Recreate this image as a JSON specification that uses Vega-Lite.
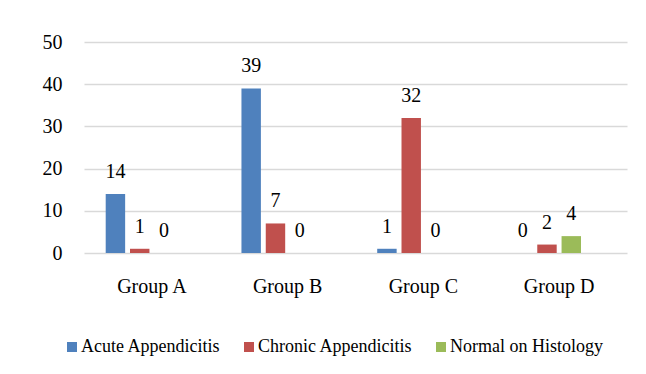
{
  "$schema": "https://vega.github.io/schema/vega-lite/v6.json",
  "autosize": "none",
  "width": 543,
  "height": 211,
  "padding": {"left": 84, "top": 42, "right": 19, "bottom": 121},
  "background": "white",
  "data": {
    "values": [
      {"group": "Group A", "series": "Acute Appendicitis", "value": 14},
      {"group": "Group A", "series": "Chronic Appendicitis", "value": 1},
      {"group": "Group A", "series": "Normal on Histology", "value": 0},
      {"group": "Group B", "series": "Acute Appendicitis", "value": 39},
      {"group": "Group B", "series": "Chronic Appendicitis", "value": 7},
      {"group": "Group B", "series": "Normal on Histology", "value": 0},
      {"group": "Group C", "series": "Acute Appendicitis", "value": 1},
      {"group": "Group C", "series": "Chronic Appendicitis", "value": 32},
      {"group": "Group C", "series": "Normal on Histology", "value": 0},
      {"group": "Group D", "series": "Acute Appendicitis", "value": 0},
      {"group": "Group D", "series": "Chronic Appendicitis", "value": 2},
      {"group": "Group D", "series": "Normal on Histology", "value": 4}
    ]
  },
  "encoding": {
    "x": {
      "field": "group", "type": "nominal", "sort": null,
      "scale": {"paddingInner": 0.284, "paddingOuter": 0.142},
      "axis": {"title": null, "labelAngle": 0, "domain": false, "ticks": false,
               "labelFont": "Liberation Serif", "labelFontSize": 20, "labelColor": "#000000",
               "labelPadding": 23}
    },
    "xOffset": {
      "field": "series", "type": "nominal",
      "scale": {"domain": ["Acute Appendicitis", "Chronic Appendicitis", "Normal on Histology", "(none)"],
                "paddingInner": 0.2, "paddingOuter": 0.1}
    },
    "y": {
      "field": "value", "type": "quantitative",
      "scale": {"domain": [0, 50], "nice": false},
      "axis": {"title": null, "values": [0, 10, 20, 30, 40, 50], "domain": false, "ticks": false,
               "grid": true, "gridColor": "#d9d9d9", "gridWidth": 1.3,
               "labelFont": "Liberation Serif", "labelFontSize": 20, "labelColor": "#000000",
               "labelPadding": 22}
    }
  },
  "layer": [
    {
      "mark": {"type": "bar"},
      "encoding": {
        "color": {
          "field": "series", "type": "nominal",
          "scale": {"domain": ["Acute Appendicitis", "Chronic Appendicitis", "Normal on Histology"],
                    "range": ["#4F81BD", "#C0504D", "#9BBB59"]},
          "legend": {
            "title": null, "orient": "none", "direction": "horizontal",
            "legendX": -21, "legendY": 296,
            "symbolType": "square", "symbolSize": 100, "symbolStrokeWidth": 0,
            "symbolOpacity": 1,
            "labelFont": "Liberation Serif", "labelFontSize": 18, "labelColor": "#000000",
            "labelOffset": 0, "columnPadding": 19, "labelLimit": 300
          }
        }
      }
    },
    {
      "mark": {"type": "text", "baseline": "alphabetic", "dy": -16,
               "font": "Liberation Serif", "fontSize": 20, "color": "#000000"},
      "encoding": {"text": {"field": "value", "type": "quantitative"}}
    }
  ],
  "config": {
    "font": "Liberation Serif",
    "view": {"stroke": null}
  }
}
